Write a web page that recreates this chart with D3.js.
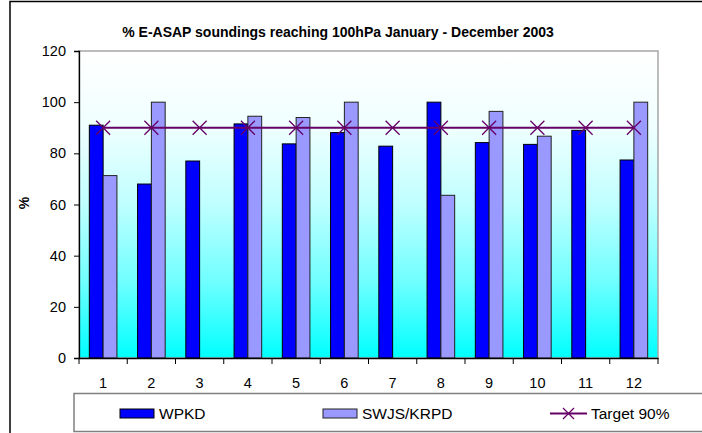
<!DOCTYPE html>
<html lang="en">
<head>
<meta charset="UTF-8">
<title>E-ASAP soundings</title>
<script src="https://cdn.jsdelivr.net/npm/d3@7"></script>
<style>
  body { margin: 0; background: #fff; }
  text { font-family: "Liberation Sans", Arial, sans-serif; fill: #000; }
</style>
</head>
<body>
<div id="chart-space"></div>
<script>
// data
var months = ["1", "2", "3", "4", "5", "6", "7", "8", "9", "10", "11", "12"];
var wpkd = [91, 68, 77, 91.5, 83.7, 88.1, 82.8, 100, 84.2, 83.5, 89, 77.4];
var swjs = [71.3, 100, null, 94.5, 94, 100, null, 63.6, 96.4, 86.7, null, 100];
var target = [90, 90, 90, 90, 90, 90, 90, 90, 90, 90, 90, 90];
var yTicks = [0, 20, 40, 60, 80, 100, 120];
var seriesNames = ["WPKD", "SWJS/KRPD", "Target 90%"];

var width = 702, height = 433;
var plot = {left: 79, top: 51, right: 658, bottom: 358};
var chartWidth = plot.right - plot.left;
var chartHeight = plot.bottom - plot.top;

var svg = d3.select("#chart-space").append("svg")
    .attr("width", width)
    .attr("height", height);

// gradient for plot area (white on top, cyan at the bottom)
var grad = svg.append("defs").append("linearGradient")
    .attr("id", "bg").attr("x1", 0).attr("y1", 0).attr("x2", 0).attr("y2", 1);
[[0, 255], [0.25, 239], [0.5, 191], [0.75, 112], [1, 0]].forEach(function(s) {
    grad.append("stop")
        .attr("offset", s[0] * 100 + "%")
        .attr("stop-color", d3.rgb(s[1], 255, 255));
});

// outer frame
svg.append("rect")
    .attr("x", 10).attr("y", 1.5)
    .attr("width", 720).attr("height", 460)
    .attr("fill", "#fff").attr("stroke", "#000").attr("stroke-width", 1.5);

// title
svg.append("text")
    .attr("x", 338).attr("y", 37)
    .attr("text-anchor", "middle")
    .attr("font-size", "14px")
    .attr("font-weight", "bold")
    .text("% E-ASAP soundings reaching 100hPa January - December 2003");

var g = svg.append("g")
    .attr("transform", "translate(" + plot.left + "," + plot.top + ")");

var gap = 1 - 27.6 / (chartWidth / 12);
var x0 = d3.scaleBand().domain(months).range([0, chartWidth])
    .paddingInner(gap).paddingOuter(gap / 2);
var x1 = d3.scaleBand().domain(["wpkd", "swjs"]).range([0, x0.bandwidth()]);
var y = d3.scaleLinear().domain([0, 120]).range([chartHeight, 0]);

// plot area
g.append("rect")
    .attr("width", chartWidth).attr("height", chartHeight)
    .attr("fill", "url(#bg)")
    .attr("stroke", "#a6a6a6").attr("stroke-width", 1.5);

// bars
g.selectAll(".bar-w")
    .data(wpkd)
    .join("rect")
    .attr("x", function(d, i) { return x0(months[i]) + x1("wpkd"); })
    .attr("y", function(d) { return y(d); })
    .attr("width", x1.bandwidth())
    .attr("height", function(d) { return chartHeight - y(d); })
    .attr("fill", "#0000ff")
    .attr("stroke", "#000").attr("stroke-width", 1);

g.selectAll(".bar-s")
    .data(swjs.map(function(v, i) { return {m: months[i], v: v}; }).filter(function(d) { return d.v != null; }))
    .join("rect")
    .attr("x", function(d) { return x0(d.m) + x1("swjs"); })
    .attr("y", function(d) { return y(d.v); })
    .attr("width", x1.bandwidth())
    .attr("height", function(d) { return chartHeight - y(d.v); })
    .attr("fill", "#9999ff")
    .attr("stroke", "#222").attr("stroke-width", 1);

// target line
var cx = function(d, i) { return x0(months[i]) + x0.bandwidth() / 2; };
var line = d3.line().x(cx).y(function(d) { return y(d); });
g.append("path")
    .datum(target)
    .attr("d", line)
    .attr("fill", "none")
    .attr("stroke", "#660066").attr("stroke-width", 2.2);

var m = 7;
g.selectAll(".mark")
    .data(target)
    .join("path")
    .attr("d", function(d, i) {
        var px = cx(d, i), py = y(d);
        return "M" + (px - m) + "," + (py - m) + "L" + (px + m) + "," + (py + m) +
               "M" + (px - m) + "," + (py + m) + "L" + (px + m) + "," + (py - m);
    })
    .attr("stroke", "#660066").attr("stroke-width", 1.3);

// y axis
var yAxis = g.append("g")
    .call(d3.axisLeft(y).tickValues(yTicks).tickSize(5).tickPadding(8));
yAxis.selectAll("text").attr("font-size", "14.5px").attr("font-family", "Liberation Sans, Arial, sans-serif");

// x axis with ticks between categories
var xAxis = g.append("g")
    .attr("transform", "translate(0," + chartHeight + ")")
    .call(d3.axisBottom(x0).tickSize(0).tickPadding(20));
xAxis.selectAll("text").attr("font-size", "14.5px").attr("font-family", "Liberation Sans, Arial, sans-serif");
xAxis.selectAll(".sep")
    .data(d3.range(13))
    .join("line")
    .attr("x1", function(d) { return d * x0.step(); })
    .attr("x2", function(d) { return d * x0.step(); })
    .attr("y1", 0).attr("y2", 6)
    .attr("stroke", "#000");
svg.selectAll(".domain").attr("stroke", "#000").attr("stroke-width", 1.3);

// y label
svg.append("text")
    .attr("transform", "translate(29,203) rotate(-90)")
    .attr("text-anchor", "middle")
    .attr("font-size", "14px")
    .attr("font-weight", "bold")
    .text("%");

// legend
var legend = svg.append("g");
legend.append("rect")
    .attr("x", 74).attr("y", 393.5)
    .attr("width", 700).attr("height", 38)
    .attr("fill", "#fff").attr("stroke", "#808080").attr("stroke-width", 1.5);

legend.append("rect").attr("x", 120).attr("y", 409).attr("width", 34).attr("height", 9)
    .attr("fill", "#0000ff").attr("stroke", "#000");
legend.append("text").attr("x", 159).attr("y", 419).attr("font-size", "15.5px").text(seriesNames[0]);

legend.append("rect").attr("x", 323).attr("y", 409).attr("width", 34).attr("height", 9)
    .attr("fill", "#9999ff").attr("stroke", "#222");
legend.append("text").attr("x", 362).attr("y", 419).attr("font-size", "15.5px").text(seriesNames[1]);

legend.append("line").attr("x1", 550).attr("x2", 587).attr("y1", 413.5).attr("y2", 413.5)
    .attr("stroke", "#660066").attr("stroke-width", 2);
legend.append("path")
    .attr("d", "M563,408L574,419M563,419L574,408")
    .attr("stroke", "#660066").attr("stroke-width", 1.3);
legend.append("text").attr("x", 591).attr("y", 419).attr("font-size", "15.5px").text(seriesNames[2]);
</script>
</body>
</html>
